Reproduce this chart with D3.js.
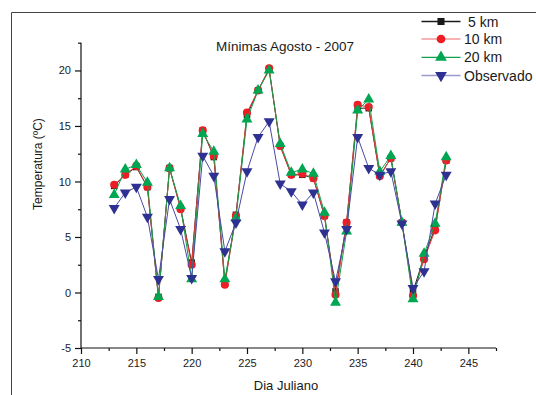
<!DOCTYPE html>
<html>
<head>
<meta charset="utf-8">
<script src="https://cdn.jsdelivr.net/npm/d3@7"></script>
<style>
  html, body { margin: 0; padding: 0; background: #fff; }
  svg { display: block; }
  text { font-family: "Liberation Sans", Arial, sans-serif; fill: #1a1a1a; }
</style>
</head>
<body>
<svg id="chart" width="536" height="395"></svg>
<script>
// Julian days of August 2007
const days = d3.range(213, 244);

// Minimum temperatures (ºC) per model resolution and observed
const km5 = [9.6, 10.6, 11.3, 9.5, -0.4, 11.2, 7.6, 2.7, 14.6, 12.2, 0.9, 7.0, 16.0,
             18.2, 20.1, 13.2, 10.6, 10.6, 10.3, 6.9, 0.1, 6.3, 16.6, 16.6, 10.5, 12.1,
             6.3, 0.1, 3.2, 5.8, 11.9];
const km10 = [9.7, 10.6, 11.4, 9.5, -0.5, 11.2, 7.5, 2.5, 14.6, 12.3, 0.7, 6.9, 16.2,
              18.2, 20.2, 13.2, 10.6, 10.7, 10.3, 6.9, -0.2, 6.3, 16.9, 16.7, 10.5, 12.1,
              6.3, -0.3, 3.0, 5.6, 11.9];
const km20 = [8.8, 11.1, 11.5, 9.9, -0.4, 11.2, 7.8, 1.2, 14.3, 12.7, 1.2, 6.7, 15.6,
              18.2, 20.0, 13.4, 10.8, 11.1, 10.7, 7.2, -0.9, 5.5, 16.4, 17.4, 10.9, 12.3,
              6.3, -0.6, 3.5, 6.2, 12.2];
const observado = [7.6, 9.0, 9.5, 6.8, 1.2, 8.4, 5.7, 1.3, 12.3, 10.5, 3.7, 6.3, 10.9,
                   14.0, 15.4, 9.8, 9.1, 7.9, 9.0, 5.4, 1.0, 5.7, 14.0, 11.2, 10.6, 10.9,
                   6.2, 0.4, 1.9, 8.0, 10.6];

const seriesNames = ["5 km", "10 km", "20 km", "Observado"];
const xMajorTicks = [210, 215, 220, 225, 230, 235, 240, 245];
const yMajorTicks = [-5, 0, 5, 10, 15, 20];

const titleText = "Mínimas Agosto - 2007";
const xTitle = "Dia Juliano";
const yTitle = "Temperatura (ºC)";

const svg = d3.select("#chart");

const x = d3.scaleLinear().domain([210, 247.5]).range([81, 496]);
const y = d3.scaleLinear().domain([-5, 22.5]).range([348, 42.7]);

// Page frame (top and left edges)
svg.append("path")
  .attr("d", "M11.5,395 L11.5,12.5 L536,12.5")
  .attr("fill", "none").attr("stroke", "#444").attr("stroke-width", 1);

// Axes: major ticks with labels plus unlabeled minor ticks
const xMinor = d3.range(212.5, 248, 5);
const yMinor = d3.range(-2.5, 23, 5);
const plainNumber = d => String(d);

const gx = svg.append("g").attr("transform", `translate(0,${y(-5)})`);
gx.call(d3.axisBottom(x).tickValues(xMajorTicks).tickSize(6).tickPadding(5).tickFormat(plainNumber));
gx.append("g").call(d3.axisBottom(x).tickValues(xMinor).tickSize(3).tickFormat(""))
  .select(".domain").remove();

const gy = svg.append("g").attr("transform", `translate(${x(210)},0)`);
gy.call(d3.axisLeft(y).tickValues(yMajorTicks).tickSize(6).tickPadding(4).tickFormat(plainNumber));
gy.append("g").call(d3.axisLeft(y).tickValues(yMinor).tickSize(3).tickFormat(""))
  .select(".domain").remove();

[gx, gy].forEach(g => {
  g.selectAll(".domain").attr("stroke", "#111").attr("stroke-width", 1.2);
  g.selectAll(".tick line").attr("stroke", "#111").attr("stroke-width", 1.2);
  g.selectAll(".tick text").style("font-size", "11px").style("fill", "#222")
    .style("font-family", "'Liberation Sans', Arial, sans-serif");
});
gx.selectAll(".domain").attr("d", `M${x(210)},0H${x(247.5)}`);
gy.selectAll(".domain").attr("d", `M0,${y(22.5)}V${y(-5)}`);

// Titles
svg.append("text").attr("x", 285).attr("y", 51).attr("text-anchor", "middle")
  .style("font-size", "13.5px").text(titleText);
svg.append("text").attr("x", 286).attr("y", 390).attr("text-anchor", "middle")
  .style("font-size", "13px").text(xTitle);
svg.append("text").attr("transform", "translate(42,164) rotate(-90)")
  .attr("text-anchor", "middle").style("font-size", "12px").text(yTitle);

// Series styling
const series = [
  { name: seriesNames[0], values: km5, line: "#1a1a1a", legendLine: "#1a1a1a", fill: "#1a1a1a",
    symbol: d3.symbolSquare, size: 42, rotate: 0 },
  { name: seriesNames[1], values: km10, line: "#ec3b3b", legendLine: "#f49a9a", fill: "#ee1c24",
    symbol: d3.symbolCircle, size: 52, rotate: 0 },
  { name: seriesNames[2], values: km20, line: "#13a04a", legendLine: "#13a04a", fill: "#00a651",
    symbol: d3.symbolTriangle, size: 52, rotate: 0 },
  { name: seriesNames[3], values: observado, line: "#4a4aa6", legendLine: "#9a9ad0", fill: "#2e3192",
    symbol: d3.symbolTriangle, size: 52, rotate: 180 }
];

const line = d3.line().x(d => x(d[0])).y(d => y(d[1]));

series.forEach(s => {
  const pts = days.map((d, i) => [d, s.values[i]]);
  const g = svg.append("g");
  g.append("path").datum(pts).attr("d", line)
    .attr("fill", "none").attr("stroke", s.line).attr("stroke-width", 1);
  g.selectAll("path.m").data(pts).enter().append("path").attr("class", "m")
    .attr("d", d3.symbol().type(s.symbol).size(s.size))
    .attr("transform", d => `translate(${x(d[0])},${y(d[1])}) rotate(${s.rotate})`)
    .attr("fill", s.fill);
});

// Legend
const legendY = [21.5, 39, 57.3, 75.5];
series.forEach((s, i) => {
  const g = svg.append("g").attr("transform", `translate(0,${legendY[i]})`);
  g.append("line").attr("x1", 421.5).attr("x2", 460.5).attr("y1", 0).attr("y2", 0)
    .attr("stroke", s.legendLine).attr("stroke-width", 1.3);
  g.append("path").attr("d", d3.symbol().type(s.symbol).size(s.size + 8))
    .attr("transform", `translate(441,0) rotate(${s.rotate})`).attr("fill", s.fill);
  g.append("text").attr("x", i === 0 ? 468 : 464).attr("y", 5)
    .style("font-size", "14px").text(s.name);
});
</script>
</body>
</html>
